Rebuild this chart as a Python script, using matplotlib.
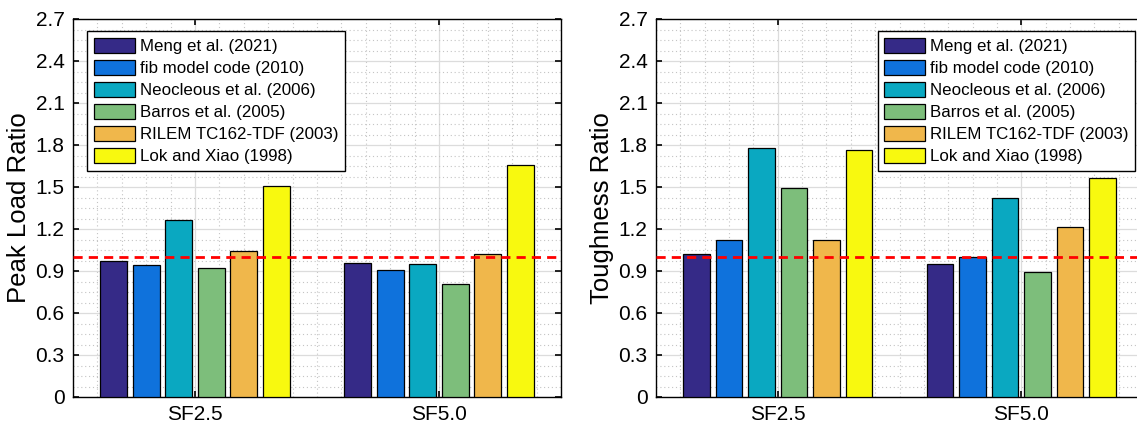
import matplotlib.pyplot as plt
import numpy as np
from matplotlib.ticker import MultipleLocator

plt.rcParams['font.family'] = ['Liberation Sans', 'DejaVu Sans']

groups = ['SF2.5', 'SF5.0']
models = ['Meng et al. (2021)', 'fib model code (2010)', 'Neocleous et al. (2006)',
          'Barros et al. (2005)', 'RILEM TC162-TDF (2003)', 'Lok and Xiao (1998)']
colors = ['#352a87', '#0f72dc', '#0aa8c1', '#7dbe7b', '#f0b74b', '#f8f90f']
yticks = [0, 0.3, 0.6, 0.9, 1.2, 1.5, 1.8, 2.1, 2.4, 2.7]
ytick_labels = ['0', '0.3', '0.6', '0.9', '1.2', '1.5', '1.8', '2.1', '2.4', '2.7']

# ratio values per model: [SF2.5, SF5.0]
peak_load = [[0.97, 0.96],
             [0.945, 0.905],
             [1.265, 0.95],
             [0.925, 0.81],
             [1.04, 1.02],
             [1.51, 1.66]]
toughness = [[1.025, 0.95],
             [1.12, 1.0],
             [1.78, 1.42],
             [1.49, 0.895],
             [1.12, 1.215],
             [1.765, 1.565]]

fig = plt.figure(figsize=(11.37, 4.28), dpi=100)
ax1 = fig.add_axes([73 / 1137, 31 / 428, 488 / 1137, 378 / 428])
ax2 = fig.add_axes([656 / 1137, 31 / 428, 487 / 1137, 378 / 428])

x = np.arange(1, len(groups) + 1)
width = 0.11
offsets = (np.arange(len(models)) - 2.5) * 0.1333


def draw(ax, data, ylabel, leg_x):
    for i, m in enumerate(models):
        ax.bar(x + offsets[i], data[i], width, color=colors[i], edgecolor='black',
               linewidth=0.9, label=m, zorder=3)
    ax.axhline(1.0, color='red', linestyle=(0, (3.3, 2.2)), linewidth=2, zorder=4)
    ax.set_xlim(0.5, 2.5)
    ax.set_ylim(0, 2.7)
    ax.set_xticks(x)
    ax.set_xticklabels(groups)
    ax.set_yticks(yticks)
    ax.set_yticklabels(ytick_labels)
    ax.yaxis.set_minor_locator(MultipleLocator(0.075))
    ax.xaxis.set_minor_locator(MultipleLocator(0.1))
    ax.grid(True, which='major', color='#dcdcdc', linewidth=0.9, zorder=0)
    ax.grid(True, which='minor', color='#c4c4c4', linestyle=(0, (1, 2.5)),
            linewidth=0.8, zorder=0)
    ax.tick_params(which='major', direction='in', length=4, width=1.2,
                   top=True, right=True, labelsize=15, pad=6)
    ax.tick_params(which='minor', length=0)
    for s in ax.spines.values():
        s.set_linewidth(1.0)
    ax.set_ylabel(ylabel, fontsize=18.5, labelpad=3)
    ax.set_axisbelow(True)
    leg = ax.legend(loc='upper left', bbox_to_anchor=(leg_x, 0.968), borderaxespad=0,
                    fontsize=12.2, handlelength=2.4, handleheight=1.0,
                    handletextpad=0.3, labelspacing=0.33, borderpad=0.4,
                    fancybox=False, framealpha=1, edgecolor='black')
    leg.get_frame().set_linewidth(1.0)


draw(ax1, peak_load, 'Peak Load Ratio', 0.029)
draw(ax2, toughness, 'Toughness Ratio', 0.455)

fig.savefig('out.png', dpi=100)
